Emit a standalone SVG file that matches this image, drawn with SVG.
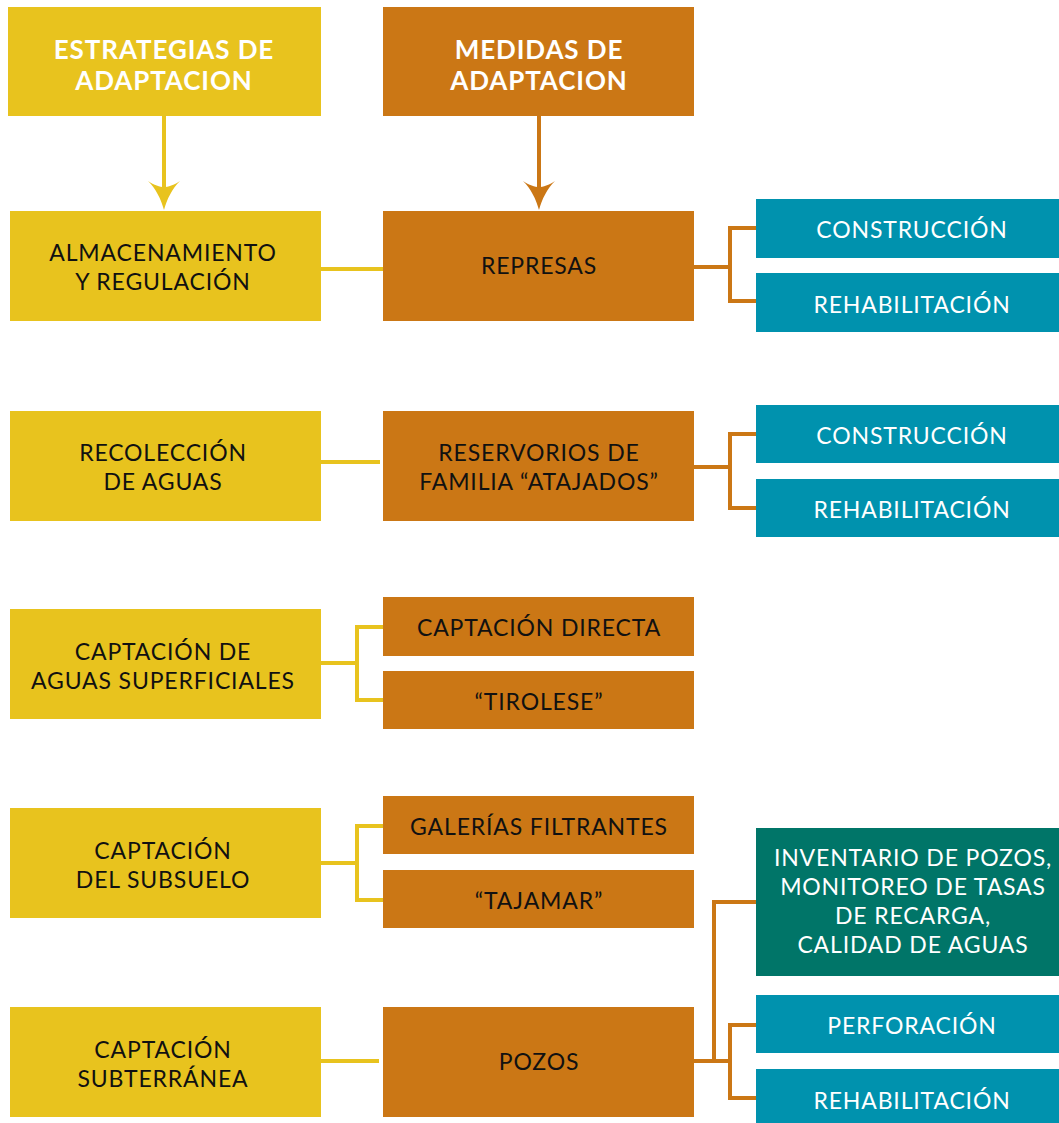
<svg xmlns="http://www.w3.org/2000/svg" width="1059" height="1123" viewBox="0 0 1059 1123">
<style>
.y{fill:#E8C31E}
.o{fill:#CB7715}
.t{fill:#0092AE}
.g{fill:#007568}
text{font-family:Lato,"Liberation Sans",sans-serif;font-size:23px;letter-spacing:0.85px;text-anchor:middle;fill:#111}
.w{fill:#fff}
.h{font-size:26px;font-weight:bold;fill:#fff;letter-spacing:0.9px}
.cy{stroke:#E8C31E;stroke-width:4;fill:none}
.co{stroke:#CB7715;stroke-width:4;fill:none}
</style>
<defs>
<path id="ah" d="M0,0 C-3,-11 -8,-21 -16,-29 C-10,-25 -4,-23 0,-23 C4,-23 10,-25 16,-29 C8,-21 3,-11 0,0 Z"/>
</defs>
<g id="connectors">
<line class="cy" x1="164" y1="116" x2="164" y2="190"/>
<use href="#ah" x="164" y="210" fill="#E8C31E"/>
<line class="co" x1="539" y1="116" x2="539" y2="190"/>
<use href="#ah" x="539" y="210" fill="#CB7715"/>
<line class="cy" x1="321" y1="269" x2="383" y2="269"/>
<path class="co" d="M694,267 H730 M756,228 H730 V301 H756"/>
<line class="cy" x1="321" y1="462" x2="380" y2="462"/>
<path class="co" d="M694,467 H730 M756,434 H730 V508 H756"/>
<path class="cy" d="M321,663 H357 M383,627 H357 V700 H383"/>
<path class="cy" d="M321,863 H357 M383,826 H357 V900 H383"/>
<line class="cy" x1="321" y1="1061" x2="379" y2="1061"/>
<path class="co" d="M694,1061 H730 M756,902 H714 V1061 M756,1025 H730 V1098 H756"/>
</g>
<g id="h1"><rect class="y" x="8" y="7" width="313" height="109"/><text class="h" x="164" y="59">ESTRATEGIAS DE</text><text class="h" x="164" y="90">ADAPTACION</text></g>
<g id="h2"><rect class="o" x="383" y="7" width="311" height="109"/><text class="h" x="539" y="59">MEDIDAS DE</text><text class="h" x="539" y="90">ADAPTACION</text></g>
<g id="s1"><rect class="y" x="10" y="211" width="311" height="110"/><text x="163" y="261">ALMACENAMIENTO</text><text x="163" y="290">Y REGULACIÓN</text></g>
<g id="m1"><rect class="o" x="383" y="211" width="311" height="110"/><text x="539" y="274">REPRESAS</text></g>
<g id="c1"><rect class="t" x="756" y="199" width="303" height="59"/><text class="w" x="912" y="238">CONSTRUCCIÓN</text></g>
<g id="r1"><rect class="t" x="756" y="273" width="303" height="59"/><text class="w" x="912" y="313">REHABILITACIÓN</text></g>
<g id="s2"><rect class="y" x="10" y="411" width="311" height="110"/><text x="163" y="461">RECOLECCIÓN</text><text x="163" y="490">DE AGUAS</text></g>
<g id="m2"><rect class="o" x="383" y="411" width="311" height="110"/><text x="539" y="461">RESERVORIOS DE</text><text x="539" y="490">FAMILIA “ATAJADOS”</text></g>
<g id="c2"><rect class="t" x="756" y="405" width="303" height="58"/><text class="w" x="912" y="444">CONSTRUCCIÓN</text></g>
<g id="r2"><rect class="t" x="756" y="479" width="303" height="58"/><text class="w" x="912" y="518">REHABILITACIÓN</text></g>
<g id="s3"><rect class="y" x="10" y="609" width="311" height="110"/><text x="163" y="660">CAPTACIÓN DE</text><text x="163" y="689">AGUAS SUPERFICIALES</text></g>
<g id="m3a"><rect class="o" x="383" y="597" width="311" height="59"/><text x="539" y="636">CAPTACIÓN DIRECTA</text></g>
<g id="m3b"><rect class="o" x="383" y="671" width="311" height="58"/><text x="539" y="710">“TIROLESE”</text></g>
<g id="s4"><rect class="y" x="10" y="808" width="311" height="110"/><text x="163" y="859">CAPTACIÓN</text><text x="163" y="888">DEL SUBSUELO</text></g>
<g id="m4a"><rect class="o" x="383" y="796" width="311" height="58"/><text x="539" y="835">GALERÍAS FILTRANTES</text></g>
<g id="m4b"><rect class="o" x="383" y="870" width="311" height="58"/><text x="539" y="909">“TAJAMAR”</text></g>
<g id="s5"><rect class="y" x="10" y="1007" width="311" height="110"/><text x="163" y="1058">CAPTACIÓN</text><text x="163" y="1087">SUBTERRÁNEA</text></g>
<g id="m5"><rect class="o" x="383" y="1007" width="311" height="110"/><text x="539" y="1070">POZOS</text></g>
<g id="inv"><rect class="g" x="756" y="828" width="303" height="148"/><text class="w" x="913" y="866">INVENTARIO DE POZOS,</text><text class="w" x="913" y="895">MONITOREO DE TASAS</text><text class="w" x="913" y="924">DE RECARGA,</text><text class="w" x="913" y="953">CALIDAD DE AGUAS</text></g>
<g id="p5"><rect class="t" x="756" y="995" width="303" height="58"/><text class="w" x="912" y="1034">PERFORACIÓN</text></g>
<g id="r5"><rect class="t" x="756" y="1069" width="303" height="54"/><text class="w" x="912" y="1109">REHABILITACIÓN</text></g>
</svg>
